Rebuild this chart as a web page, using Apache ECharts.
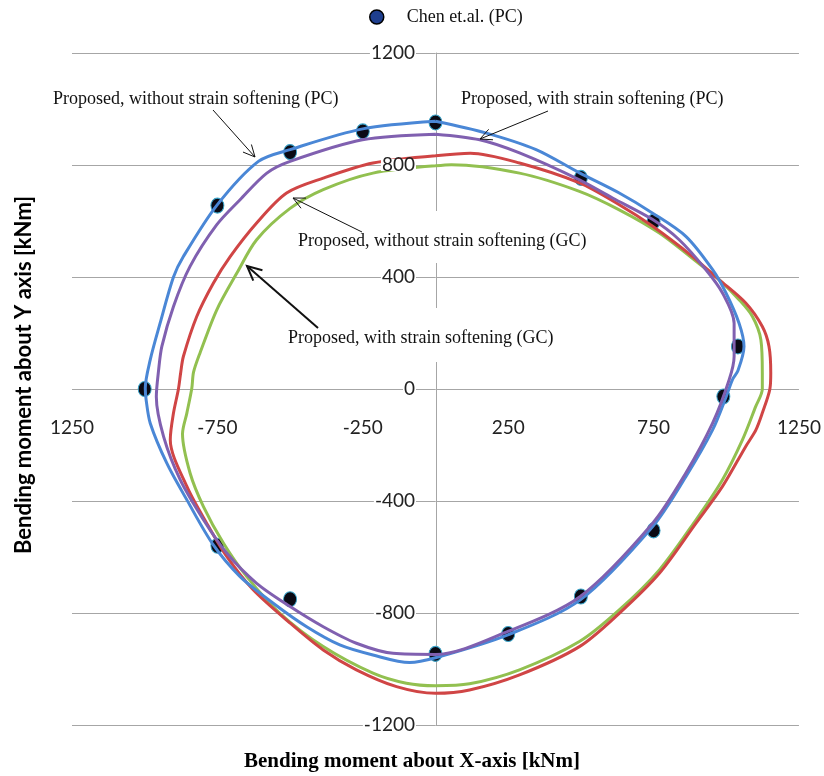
<!DOCTYPE html>
<html><head><meta charset="utf-8">
<script src="https://cdn.jsdelivr.net/npm/echarts@6/dist/echarts.min.js"></script>
<style>html,body{margin:0;padding:0;background:#fff}#c{width:824px;height:776px}</style>
</head><body><div id="c"></div>
<script>
// ---- data (kNm) ----
const chenName = 'Chen et.al. (PC)';
const chenPC = [[-1000,0],[-750,655],[-500,846],[-250,920],[0,952],[500,754],[750,598],[1040,152],[990,-27],[750,-505],[500,-741],[250,-875],[0,-946],[-500,-751],[-750,-560]];

const withoutSoftPC = [[0,956],[-250,929],[-500,855],[-609,813],[-752,656],[-867,473],[-901,400],[-947,235],[-981,104],[-998,3],[-995,-39],[-981,-122],[-924,-265],[-855,-396],[-764,-557],[-672,-670],[-558,-765],[-443,-849],[-329,-914],[-215,-950],[-89,-977],[0,-960],[249,-878],[498,-753],[747,-491],[861,-313],[953,-146],[1000,-27],[1021,33],[1040,65],[1061,152],[1044,235],[999,343],[953,426],[861,545],[747,628],[632,700],[495,772],[346,855],[175,914],[0,956]];

const withSoftPC = [[0,910],[-251,890],[-500,813],[-580,771],[-672,676],[-752,587],[-844,438],[-901,295],[-941,152],[-952,69],[-960,-28],[-935,-170],[-878,-324],[-798,-467],[-718,-586],[-615,-694],[-500,-777],[-386,-849],[-272,-908],[-146,-944],[0,-948],[249,-866],[498,-741],[747,-479],[861,-300],[953,-122],[1010,33],[1027,116],[1027,235],[987,343],[930,426],[838,533],[747,605],[609,682],[495,747],[289,843],[152,890],[0,910]];

const withoutSoftGC = [[0,833],[-215,807],[-386,753],[-512,700],[-615,593],[-706,473],[-764,378],[-821,259],[-867,116],[-876,60],[-884,0],[-901,-86],[-912,-181],[-855,-348],[-787,-479],[-718,-598],[-627,-717],[-500,-836],[-386,-932],[-272,-1003],[-134,-1063],[0,-1087],[117,-1075],[289,-1021],[495,-920],[632,-801],[770,-658],[896,-479],[987,-348],[1067,-205],[1102,-146],[1124,-86],[1150,0],[1153,57],[1147,152],[1124,223],[1067,307],[976,390],[884,473],[747,581],[632,658],[495,736],[289,807],[120,842],[0,833]];

const withSoftGC = [[0,797],[-215,771],[-386,712],[-500,645],[-615,533],[-683,414],[-752,283],[-810,128],[-832,60],[-838,3],[-855,-86],[-870,-160],[-844,-300],[-798,-420],[-729,-551],[-649,-670],[-535,-801],[-386,-920],[-215,-1015],[-100,-1051],[0,-1060],[117,-1053],[289,-1003],[495,-902],[632,-789],[770,-646],[896,-467],[987,-324],[1056,-181],[1101,-63],[1124,0],[1124,57],[1119,176],[1090,259],[1044,319],[976,390],[918,438],[770,557],[632,640],[495,706],[289,771],[55,801],[0,797]];

const lineNames = ['Proposed, without strain softening (PC)','Proposed, with strain softening (PC)','Proposed, without strain softening (GC)','Proposed, with strain softening (GC)'];
const xAxisTitle = 'Bending moment about X-axis [kNm]';
const yAxisTitle = 'Bending moment about Y axis [kNm]';
const xMin = -1250, xMax = 1250, xStep = 500;
const yMin = -1200, yMax = 1200, yStep = 400;

// ---- chart ----
const GRID = {left:72, right:24, top:53, bottom:51};
const W = 824, H = 776;
const plotW = W - GRID.left - GRID.right, plotH = H - GRID.top - GRID.bottom;
// offsets that bring the axes onto the zero lines
const yAxisOffset = -plotW * (0 - xMin) / (xMax - xMin);
const xAxisOffset = -plotH * (0 - yMin) / (yMax - yMin);

const chart = echarts.init(document.getElementById('c'), null, {renderer:'canvas'});
const serif = '"Liberation Serif", "Times New Roman", serif';
const sans = 'Lato, "Open Sans", sans-serif';
const ellipse = 'path://M50 0A50 50 0 1 1 49.99 0Z';

function lineSeries(name, data, color){
  return {name, type:'line', data, showSymbol:false, smooth:0.3, z:3,
    lineStyle:{color, width:3}, itemStyle:{color}};
}
function arrow(x1,y1,x2,y2,w,head){
  const a = Math.atan2(y2-y1, x2-x1), s = 0.45;
  const p1 = [x2 - head*Math.cos(a-s), y2 - head*Math.sin(a-s)];
  const p2 = [x2 - head*Math.cos(a+s), y2 - head*Math.sin(a+s)];
  return [
    {type:'line', z:110, shape:{x1,y1,x2,y2}, style:{stroke:'#111', lineWidth:w}},
    {type:'polyline', z:110, shape:{points:[p1,[x2,y2],p2]}, style:{stroke:'#111', lineWidth:w, fill:null}}
  ];
}
function label(text,x,y){
  return {type:'text', z:110, left:x, top:y-11, style:{text, font:'18px '+serif, fill:'#111'}};
}
function box(x,y,w,h){
  return {type:'rect', z:100, shape:{x,y,width:w,height:h}, style:{fill:'#fff'}};
}

const graphics = [].concat(
  [box(48,86,296,30), box(456,86,272,30), box(290,211,327,52), box(280,308,280,54)],
  [label(lineNames[0],53,101), label(lineNames[1],461,101), label(lineNames[2],298,243), label(lineNames[3],288,340)],
  arrow(213,110,255,157,1,13), arrow(548,111,480,139,1,13), arrow(362,232,293,198,1,13), arrow(318,328,247,266,2,16),
  [{type:'text', z:110, left:'center', top:751, style:{text:xAxisTitle, font:'bold 21px '+serif, fill:'#000'}},
   {type:'text', z:110, x:24, y:375, rotation:Math.PI/2,
    style:{text:yAxisTitle, font:'bold 22px '+sans, fill:'#000', align:'center', verticalAlign:'middle'}}]
);

const yBase = {type:'value', min:yMin, max:yMax, interval:yStep, position:'left', offset:yAxisOffset};

chart.setOption({
  backgroundColor:'#fff',
  animation:false,
  legend:{
    data:[{name:chenName, icon:'circle', itemStyle:{color:'#1f3f8f', borderColor:'#000', borderWidth:1.5}}],
    left:369, top:8, padding:0, itemWidth:50, itemHeight:14,
    textStyle:{fontFamily:serif, fontSize:18, color:'#111'}
  },
  grid:Object.assign({containLabel:false}, GRID),
  xAxis:{type:'value', min:xMin, max:xMax, interval:xStep, position:'bottom', offset:xAxisOffset,
    axisLine:{show:false, onZero:false}, axisTick:{show:false}, splitLine:{show:false},
    axisLabel:{show:true, showMinLabel:true, showMaxLabel:true, margin:29,
      fontFamily:sans, fontSize:19, color:'#222',
      formatter:v => v === xMin ? String(-v) : String(v)}},
  yAxis:[
    Object.assign({}, yBase, {
      axisLine:{show:true, onZero:false, lineStyle:{color:'#a6a6a6', width:1}},
      axisTick:{show:false}, axisLabel:{show:false},
      splitLine:{show:true, lineStyle:{color:'#a6a6a6', width:1}}}),
    Object.assign({}, yBase, {z:20,
      axisLine:{show:false, onZero:false}, axisTick:{show:false}, splitLine:{show:false},
      axisLabel:{margin:20, fontFamily:sans, fontSize:19, lineHeight:12, color:'#222', backgroundColor:'#fff', padding:[0,1],
        formatter:v => String(v)}})
  ],
  series:[
    {name:chenName, type:'scatter', data:chenPC, symbol:ellipse, symbolSize:[13,15], z:2,
      itemStyle:{color:'#0a0a14', borderColor:'#3aa3c9', borderWidth:1, opacity:1}},
    lineSeries(lineNames[3], withSoftGC, '#92c050'),
    lineSeries(lineNames[2], withoutSoftGC, '#d04545'),
    lineSeries(lineNames[0], withoutSoftPC, '#4a87d6'),
    lineSeries(lineNames[1], withSoftPC, '#8060b0')
  ],
  graphic:graphics
});
</script></body></html>
